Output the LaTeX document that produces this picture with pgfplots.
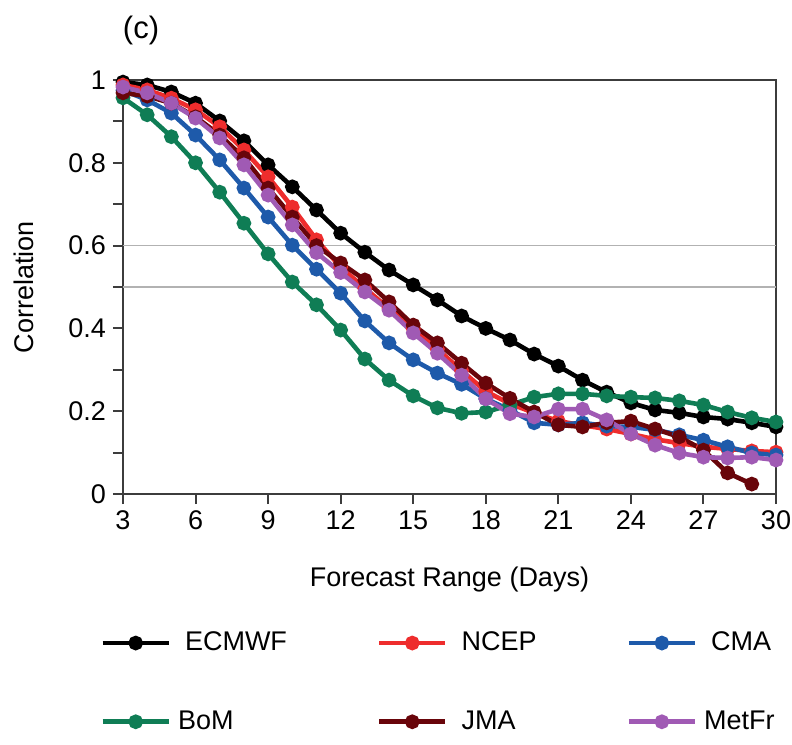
\documentclass[border=0pt]{standalone}
\usepackage{pgfplots}
\pgfplotsset{compat=1.18}
\usepackage{fontspec}
\setmainfont{Liberation Sans}
\definecolor{cECMWF}{RGB}{0,0,0}
\definecolor{cNCEP}{RGB}{238,45,45}
\definecolor{cCMA}{RGB}{30,90,170}
\definecolor{cBoM}{RGB}{15,125,85}
\definecolor{cJMA}{RGB}{105,5,10}
\definecolor{cMetFr}{RGB}{160,90,180}
\definecolor{axgray}{RGB}{60,60,60}
\begin{document}
\begin{tikzpicture}
\path[use as bounding box] (-61.5pt,-125pt) rectangle (334.5pt,247pt);
\begin{axis}[
  at={(0pt,0pt)}, anchor=south west,
  scale only axis, width=326.5pt, height=207pt,
  xmin=3, xmax=30, ymin=0, ymax=1,
  clip=false,
  font=\fontsize{13.5}{16}\selectfont,
  /pgf/number format/assume math mode=true,
  xtick={3,6,...,30},
  ytick={0,0.2,0.4,0.6,0.8,1},
  minor ytick={0.1,0.3,0.5,0.7,0.9},
  tick align=outside, tick pos=left,
  major tick length=5pt, minor tick length=5pt,
  every tick/.style={axgray, line width=1pt},
  axis line style={axgray, line width=1pt},
  xlabel={Forecast Range (Days)},
  ylabel={Correlation},
  xlabel style={at={(axis description cs:0.5,-0.2077)}, anchor=center},
  ylabel style={at={(axis description cs:-0.1516,0.5)}, anchor=center},
  title={(c)},
  title style={at={(axis description cs:0.0276,1.0918)}, anchor=center, font=\fontsize{15.5}{18}\selectfont},
  legend columns=3,
  legend cell align=left,
  legend style={at={(axis description cs:-0.0352,-0.323)}, anchor=north west, draw=none, fill=none, inner sep=0pt,
    /tikz/every odd column/.append style={column sep=1.5pt},
    /tikz/every even column/.append style={column sep=43pt}, /tikz/row sep=24.5pt,
    font=\fontsize{13.5}{16}\selectfont},
  legend image code/.code={\draw[mark repeat=2,mark phase=2] plot coordinates {(0pt,0pt) (16.5pt,0pt) (33pt,0pt)};},
  every axis plot/.append style={line width=2.3pt, mark=*, mark size=2.5pt},
]
\addplot[gray!60, line width=0.8pt, mark=none, forget plot] coordinates {(3,0.6) (30,0.6)};
\addplot[gray!60, line width=0.8pt, mark=none, forget plot] coordinates {(3,0.5) (30,0.5)};
\addplot[cECMWF] coordinates {(3,0.995) (4,0.988) (5,0.971) (6,0.944) (7,0.901) (8,0.853) (9,0.795) (10,0.742) (11,0.686) (12,0.630) (13,0.584) (14,0.541) (15,0.505) (16,0.469) (17,0.430) (18,0.400) (19,0.372) (20,0.338) (21,0.309) (22,0.275) (23,0.246) (24,0.220) (25,0.203) (26,0.196) (27,0.186) (28,0.181) (29,0.172) (30,0.162)};
\addlegendentry{\hspace{3.5pt}ECMWF}
\addplot[cNCEP] coordinates {(3,0.988) (4,0.976) (5,0.956) (6,0.928) (7,0.887) (8,0.831) (9,0.766) (10,0.693) (11,0.614) (12,0.548) (13,0.497) (14,0.448) (15,0.400) (16,0.350) (17,0.298) (18,0.248) (19,0.218) (20,0.196) (21,0.176) (22,0.166) (23,0.157) (24,0.145) (25,0.132) (26,0.123) (27,0.114) (28,0.109) (29,0.104) (30,0.101)};
\addlegendentry{\hspace{3.5pt}NCEP}
\addplot[cCMA] coordinates {(3,0.975) (4,0.952) (5,0.920) (6,0.867) (7,0.807) (8,0.739) (9,0.669) (10,0.601) (11,0.543) (12,0.485) (13,0.418) (14,0.365) (15,0.324) (16,0.292) (17,0.265) (18,0.230) (19,0.203) (20,0.172) (21,0.167) (22,0.172) (23,0.164) (24,0.162) (25,0.155) (26,0.143) (27,0.130) (28,0.114) (29,0.099) (30,0.094)};
\addlegendentry{\hspace{3.5pt}CMA}
\addplot[cBoM] coordinates {(3,0.957) (4,0.916) (5,0.863) (6,0.800) (7,0.729) (8,0.654) (9,0.580) (10,0.512) (11,0.457) (12,0.396) (13,0.326) (14,0.275) (15,0.237) (16,0.208) (17,0.195) (18,0.198) (19,0.215) (20,0.234) (21,0.242) (22,0.242) (23,0.237) (24,0.234) (25,0.232) (26,0.225) (27,0.215) (28,0.198) (29,0.184) (30,0.174)};
\addlegendentry{BoM}
\addplot[cJMA] coordinates {(3,0.969) (4,0.961) (5,0.944) (6,0.911) (7,0.867) (8,0.812) (9,0.739) (10,0.669) (11,0.600) (12,0.558) (13,0.517) (14,0.464) (15,0.408) (16,0.365) (17,0.316) (18,0.268) (19,0.231) (20,0.198) (21,0.167) (22,0.162) (23,0.172) (24,0.176) (25,0.157) (26,0.138) (27,0.106) (28,0.051) (29,0.024)};
\addlegendentry{\hspace{3.5pt}JMA}
\addplot[cMetFr] coordinates {(3,0.983) (4,0.969) (5,0.944) (6,0.908) (7,0.860) (8,0.795) (9,0.722) (10,0.650) (11,0.583) (12,0.535) (13,0.488) (14,0.444) (15,0.389) (16,0.340) (17,0.287) (18,0.230) (19,0.194) (20,0.186) (21,0.205) (22,0.205) (23,0.179) (24,0.145) (25,0.118) (26,0.099) (27,0.089) (28,0.087) (29,0.089) (30,0.082)};
\addlegendentry{MetFr}
\end{axis}
\end{tikzpicture}
\end{document}
